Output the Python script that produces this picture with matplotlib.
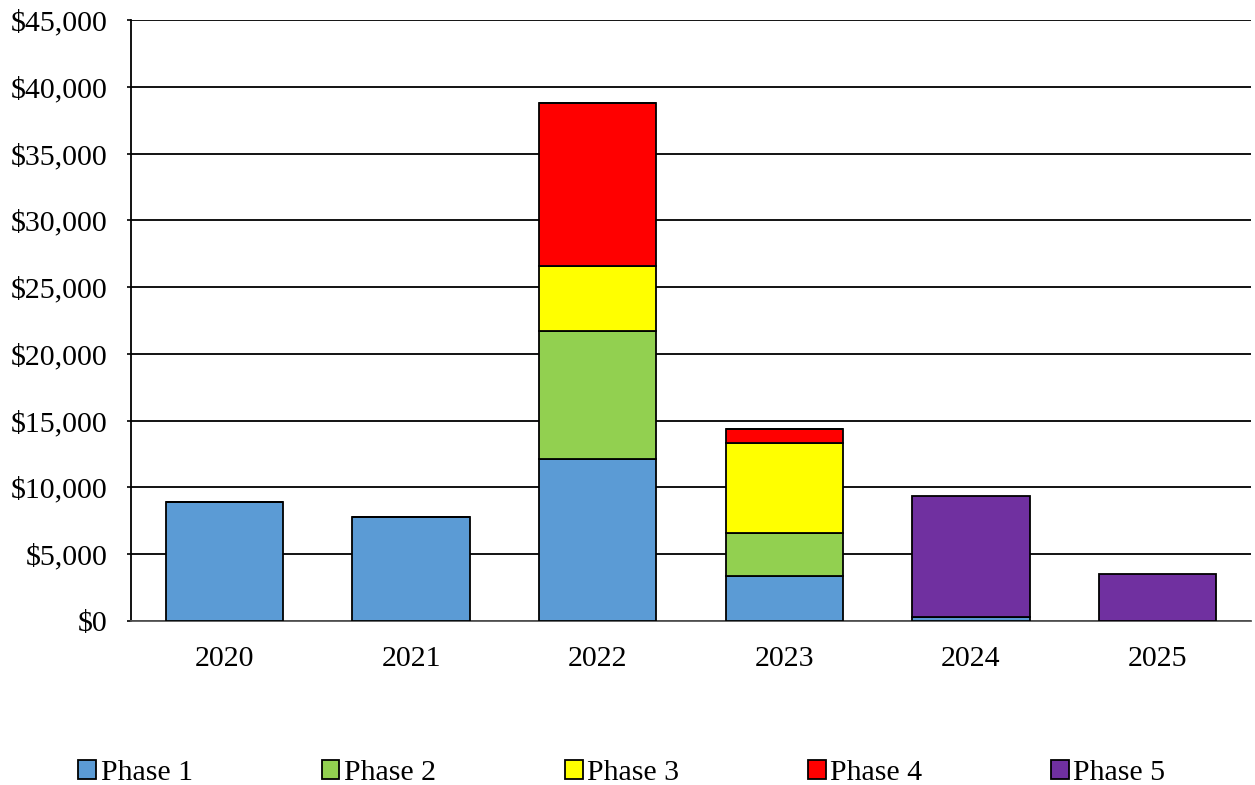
import numpy as np
import matplotlib.pyplot as plt
from matplotlib.ticker import FuncFormatter

# dados do grafico
anos = ['2020', '2021', '2022', '2023', '2024', '2025']
fase1 = [8930, 7810, 12110, 3370, 300, 0]
fase2 = [0, 0, 9600, 3190, 0, 0]
fase3 = [0, 0, 4890, 6770, 0, 0]
fase4 = [0, 0, 12160, 1050, 0, 0]
fase5 = [0, 0, 0, 0, 9060, 3500]

nomes = ['Phase 1', 'Phase 2', 'Phase 3', 'Phase 4', 'Phase 5']
cores = ['#5b9bd5', '#92d050', '#ffff00', '#ff0000', '#7030a0']

plt.rcParams['font.family'] = ['Liberation Serif', 'DejaVu Serif']

fig = plt.figure(figsize=(12.55, 7.85), dpi=100)
ax = fig.add_axes([0.1044, 0.2089, 0.8924, 0.7656])

x = np.arange(len(anos))
base = np.zeros(len(anos))
for serie, nome, cor in zip([fase1, fase2, fase3, fase4, fase5], nomes, cores):
    v = np.array(serie, dtype=float)
    ax.bar(x, v, 0.627, bottom=base, color=cor, edgecolor='black',
           linewidth=1.3, label=nome, zorder=3)
    base += v

ax.set_xlim(-0.5, len(anos) - 0.5)
ax.set_ylim(0, 45000)
ax.set_yticks(np.arange(0, 45001, 5000))
ax.yaxis.set_major_formatter(FuncFormatter(lambda v, p: '${:,.0f}'.format(v)))
ax.set_xticks(x)
ax.set_xticklabels(anos)
ax.tick_params(axis='y', labelsize=21.5, length=3, width=1.2, pad=14)
ax.tick_params(axis='x', labelsize=21.5, length=0, pad=18)
ax.grid(axis='y', color='black', linewidth=1.3, zorder=0)

for lado in ['top', 'right']:
    ax.spines[lado].set_visible(False)
ax.spines['left'].set_linewidth(1.3)
ax.spines['bottom'].set_linewidth(1.3)
ax.spines['bottom'].set_color('#555555')

fig.legend(loc='lower left', ncol=5, bbox_to_anchor=(0.053, -0.017, 0.885, 0.03),
           mode='expand', frameon=False, fontsize=21.5, handlelength=0.6,
           handleheight=0.6, handletextpad=0.15, borderaxespad=0.0)

plt.savefig('out.png', dpi=100)
